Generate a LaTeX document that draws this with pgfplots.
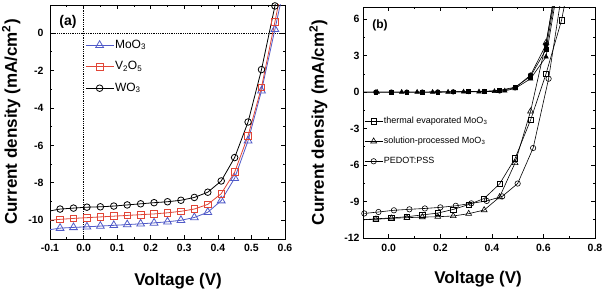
\documentclass[border=0pt]{standalone}
\usepackage{pgfplots}
\pgfplotsset{compat=1.18}
\usepackage{fontspec}
\setmainfont{Liberation Sans}
\definecolor{cblue}{RGB}{80,90,200}
\definecolor{cred}{RGB}{225,70,55}
\begin{document}
\begin{tikzpicture}
\path[use as bounding box] (0,0) rectangle (604pt,295pt);
\pgfplotsset{
  myax/.style={
    scale only axis,
    anchor=south west,
    tick align=inside,
    major tick length=4pt, minor tick length=2.2pt,
    tick style={black, line width=0.7pt},
    axis line style={line width=0.8pt},
    ticklabel style={font=\fontsize{10.5}{12}\selectfont\bfseries},
    /pgf/number format/assume math mode=true,
    label style={font=\fontsize{17}{20}\selectfont\bfseries},
    xticklabel style={/pgf/number format/fixed, /pgf/number format/fixed zerofill, /pgf/number format/precision=1},
    yticklabel style={/pgf/number format/fixed},
    legend cell align=left,
  }
}
% ---------------- panel (a)
\begin{axis}[myax, at={(50pt,56pt)}, width=235pt, height=234pt,
  xmin=-0.1, xmax=0.6, ymin=-11, ymax=1.5,
  xtick={-0.1,0,0.1,0.2,0.3,0.4,0.5,0.6}, minor x tick num=1,
  ytick={-10,-8,-6,-4,-2,0}, minor y tick num=1,
  xticklabel style={yshift=-2pt},
  yticklabel style={xshift=-3pt},
  xlabel={Voltage (V)}, ylabel={Current density (mA/cm\textsuperscript{2})},
  xlabel style={at={(axis description cs:0.545,-0.18)}, anchor=center},
  ylabel style={at={(axis description cs:-0.165,0.5)}, anchor=center},
  legend style={at={(axis description cs:0.149,0.859)}, anchor=north west, draw=none, fill=none,
    inner sep=0pt, row sep=7.5pt, font=\fontsize{12}{14}\selectfont,
    nodes={inner sep=1pt, text height=9pt, text depth=3pt}},
  legend image code/.code={\draw[mark indices={2}] plot coordinates {(0pt,0pt)(14pt,0pt)(28pt,0pt)};},
]
\addplot[black, densely dotted, line width=0.8pt, forget plot] coordinates {(0,-11) (0,1.5)};
\addplot[black, densely dotted, line width=0.8pt, forget plot] coordinates {(-0.1,0) (0.6,0)};
\addplot[cblue, line width=0.8pt, mark=triangle, mark size=4.5pt, mark options={fill=white, solid}, mark indices={2,...,18}] coordinates {
(-0.1,-10.5) (-0.07,-10.42) (-0.03,-10.38) (0.01,-10.35) (0.05,-10.31) (0.09,-10.27) (0.13,-10.23)
(0.17,-10.19) (0.21,-10.14) (0.25,-10.08) (0.29,-10.00) (0.33,-9.85) (0.37,-9.57) (0.41,-8.95)
(0.45,-7.75) (0.49,-5.75) (0.53,-3.08) (0.57,0.2) (0.60,2.7)};
\addlegendentry{MoO\textsubscript{3}}
\addplot[cred, line width=0.8pt, mark=square, mark size=3.3pt, mark options={fill=white, solid}, mark indices={2,...,18}] coordinates {
(-0.1,-10.0) (-0.07,-9.95) (-0.03,-9.90) (0.01,-9.86) (0.05,-9.82) (0.09,-9.78) (0.13,-9.74)
(0.17,-9.70) (0.21,-9.66) (0.25,-9.60) (0.29,-9.52) (0.33,-9.40) (0.37,-9.15) (0.41,-8.58)
(0.45,-7.43) (0.49,-5.48) (0.53,-2.90) (0.57,0.6) (0.60,3.3)};
\addlegendentry{V\textsubscript{2}O\textsubscript{5}}
\addplot[black, line width=0.8pt, mark=o, mark size=3.3pt, mark options={fill=white, solid}, mark indices={2,...,18}] coordinates {
(-0.1,-9.5) (-0.07,-9.40) (-0.03,-9.35) (0.01,-9.30) (0.05,-9.28) (0.09,-9.24) (0.13,-9.18)
(0.17,-9.12) (0.21,-9.06) (0.25,-9.01) (0.29,-8.93) (0.33,-8.78) (0.37,-8.50) (0.41,-7.90)
(0.45,-6.65) (0.49,-4.75) (0.53,-1.95) (0.57,1.45) (0.60,4.5)};
\addlegendentry{WO\textsubscript{3}}
\node[anchor=west, font=\fontsize{14}{16}\selectfont\bfseries] at (axis description cs:0.025,0.927) {(a)};
\end{axis}
% ---------------- panel (b)
\begin{axis}[myax, at={(363pt,57pt)}, width=232pt, height=231pt,
  xmin=-0.1, xmax=0.8, ymin=-12, ymax=7,
  xtick={0,0.2,0.4,0.6,0.8}, minor x tick num=1,
  ytick={-12,-9,-6,-3,0,3,6}, minor y tick num=1,
  xticklabel style={yshift=-2.5pt},
  xlabel={Voltage (V)}, ylabel={Current density (mA/cm\textsuperscript{2})},
  xlabel style={at={(axis description cs:0.496,-0.177)}, anchor=center},
  ylabel style={at={(axis description cs:-0.192,0.5)}, anchor=center},
  legend style={at={(axis description cs:0.005,0.53)}, anchor=north west, draw=none, fill=none,
    inner sep=0pt, row sep=9pt, font=\fontsize{9}{11}\selectfont,
    nodes={inner sep=1pt, text height=7pt, text depth=2pt}},
  legend image code/.code={\draw[mark indices={2}] plot coordinates {(0pt,0pt)(9pt,0pt)(18pt,0pt)};},
]
\addplot[black, line width=0.6pt, mark=square, mark size=2.6pt, mark options={fill=white, solid}, mark indices={2,...,14}] coordinates {
(-0.1,-10.5) (-0.05,-10.42) (0.01,-10.35) (0.07,-10.25) (0.13,-10.1) (0.19,-9.95) (0.25,-9.65)
(0.31,-9.25) (0.37,-8.75) (0.43,-7.55) (0.49,-5.45) (0.55,-2.3) (0.61,1.5) (0.67,5.9) (0.685,7.5)};
\addlegendentry{thermal evaporated MoO\textsubscript{3}}
\addplot[black, line width=0.6pt, mark=triangle, mark size=3.4pt, mark options={fill=white, solid}, mark indices={2,...,13}] coordinates {
(-0.1,-10.5) (-0.05,-10.46) (0.01,-10.38) (0.07,-10.33) (0.13,-10.28) (0.19,-10.25) (0.25,-10.19)
(0.31,-10.0) (0.37,-9.7) (0.43,-8.63) (0.49,-5.82) (0.55,-1.58) (0.61,4.07) (0.64,7.5)};
\addlegendentry{solution-processed MoO\textsubscript{3}}
\addplot[black, line width=0.6pt, mark=o, mark size=2.7pt, mark options={fill=white, solid}, mark indices={1,...,13}] coordinates {
(-0.095,-9.98) (-0.04,-9.86) (0.02,-9.72) (0.08,-9.64) (0.14,-9.57) (0.20,-9.48) (0.26,-9.35)
(0.32,-9.15) (0.38,-8.95) (0.44,-8.58) (0.50,-7.52) (0.56,-4.6) (0.62,1.1) (0.665,7.3)};
\addlegendentry{PEDOT:PSS}
% dark curves
\addplot[black, line width=0.6pt, mark=*, mark size=2.3pt, mark indices={2,...,13}, forget plot] coordinates {
(-0.1,0) (-0.05,0) (0.01,0) (0.07,0) (0.13,0) (0.19,0.01) (0.25,0.02) (0.31,0.04)
(0.37,0.05) (0.43,0.1) (0.49,0.35) (0.55,1.4) (0.61,3.9) (0.635,7.2)};
\addplot[black, line width=0.6pt, mark=triangle*, mark size=2.6pt, mark indices={2,...,13}, forget plot] coordinates {
(-0.1,0) (-0.045,0) (0.05,0) (0.11,0) (0.17,0) (0.23,0.01) (0.29,0.02) (0.35,0.03)
(0.41,0.06) (0.45,0.1) (0.49,0.3) (0.55,1.1) (0.61,2.9) (0.645,7.3)};
\addplot[black, line width=0.6pt, mark=square*, mark size=1.9pt, mark indices={2,...,13}, forget plot] coordinates {
(-0.1,0) (-0.05,0) (0.01,0) (0.07,0) (0.13,0) (0.19,0.01) (0.25,0.02) (0.31,0.05)
(0.37,0.06) (0.43,0.15) (0.49,0.4) (0.55,1.3) (0.61,3.5) (0.64,7.2)};
\node[anchor=west, font=\fontsize{12}{14}\selectfont\bfseries] at (axis description cs:0.025,0.922) {(b)};
\end{axis}
\end{tikzpicture}
\end{document}
